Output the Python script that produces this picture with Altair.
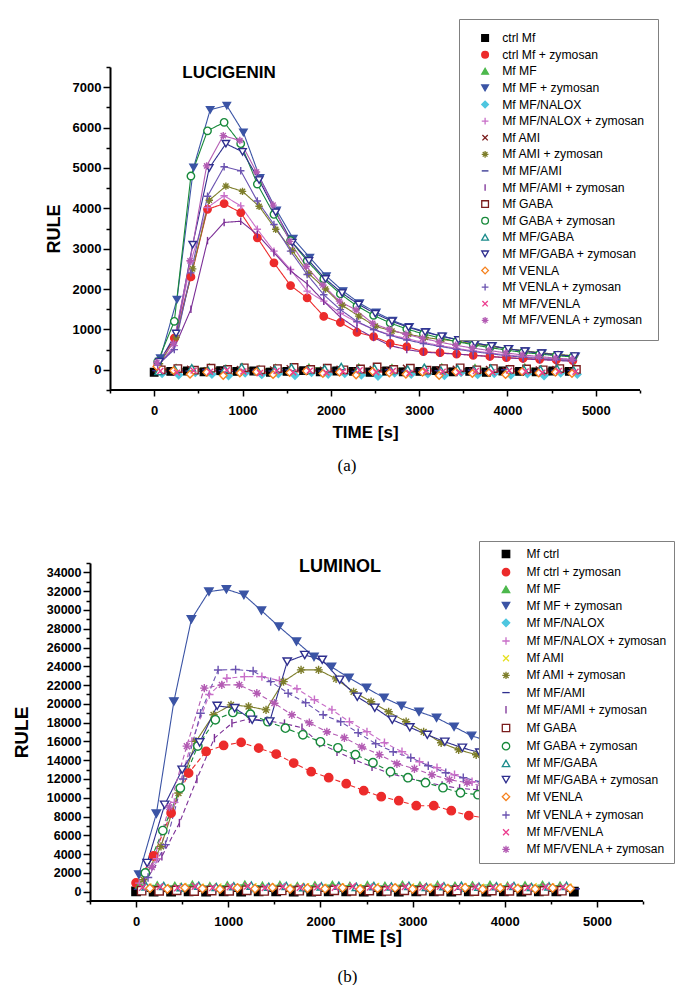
import altair as alt
import pandas as pd

# ---------------- categories ----------------
NAMES_A = ["ctrl Mf", "ctrl Mf + zymosan", "Mf MF", "Mf MF + zymosan", "Mf MF/NALOX",
           "Mf MF/NALOX + zymosan", "Mf AMI", "Mf AMI + zymosan", "Mf MF/AMI",
           "Mf MF/AMI + zymosan", "Mf GABA", "Mf GABA + zymosan", "Mf MF/GABA",
           "Mf MF/GABA + zymosan", "Mf VENLA", "Mf VENLA + zymosan", "Mf MF/VENLA",
           "Mf MF/VENLA + zymosan"]
NAMES_B = ["Mf ctrl", "Mf ctrl + zymosan"] + NAMES_A[2:]

COLORS_A = ["#000000", "#ec2b2b", "#4cb84c", "#3b54a5", "#4ec6df", "#c86ec8", "#7a1c1c",
            "#7d7d2a", "#2e2e8e", "#7b2e96", "#7a1c1c", "#17893a", "#1c8c8c", "#2e2e8e",
            "#f5821f", "#6a52b0", "#ec3d8e", "#b35bb3"]
COLORS_B = COLORS_A[:6] + ["#e6e020"] + COLORS_A[7:]

PLUS = "M-1,0L1,0M0,-1L0,1"
XMARK = "M-0.8,-0.8L0.8,0.8M-0.8,0.8L0.8,-0.8"
STAR = "M-1,0L1,0M0,-1L0,1M-0.7,-0.7L0.7,0.7M-0.7,0.7L0.7,-0.7"
DASH = "M-1,0L1,0"
VBAR = "M0,-1L0,1"
SHAPES = ["square", "circle", "triangle-up", "triangle-down", "diamond", PLUS, XMARK, STAR,
          DASH, VBAR, "square", "circle", "triangle-up", "triangle-down", "diamond", PLUS,
          XMARK, STAR]
# 1 = filled, 0 = open (white), 2 = stroke-only glyph
FILL_KIND = [1, 1, 1, 1, 1, 2, 2, 2, 2, 2, 0, 0, 0, 0, 0, 2, 2, 2]

# line style per series in panel (b)
DASHED_B = ["solid", "dashed", "solid", "solid", "solid", "dashed", "solid", "solid", "solid",
            "dashed", "solid", "dashed", "solid", "solid", "solid", "dashed", "solid", "dashed"]

# ---------------- panel (a) LUCIGENIN values ----------------
STEP_A = 188
A_CTRL = [-60, -40, -30, -50, -20, -40, -30, -60, -40, -20, -50, -30, -40, -60, -30, -50, -40, -20, -50, -40, -60, -30, -40, -50, -30, -40]
A_CTRLZ = [108, 787, 2300, 3975, 4117, 3890, 3270, 2650, 2087, 1780, 1322, 1172, 930, 822, 656, 574, 449, 424, 391, 360, 330, 300, 280, 260, 245, 230]
A_MF = [20, 50, 10, 60, 30, 70, 20, 50, 10, 60, 40, 20, 60, 10, 50, 30, 20, 60, 10, 50, 30, 20, 60, 10, 40, 50]
A_MFZ = [290, 1740, 5010, 6440, 6545, 5880, 4750, 3950, 3250, 2780, 2320, 1950, 1650, 1420, 1220, 1060, 940, 830, 740, 660, 590, 520, 460, 410, 370, 330]
A_NALOX = [-90, -130, -70, -110, -150, -80, -120, -100, -140, -70, -110, -90, -130, -160, -80, -110, -100, -140, -70, -120, -90, -130, -100, -150, -80, -110]
A_NALOXZ = [100, 600, 2690, 4020, 4310, 4060, 3480, 2940, 2485, 1950, 1700, 1400, 1180, 1000, 870, 770, 680, 600, 530, 470, 420, 370, 330, 300, 270, 250]
A_AMI = [10, -30, 30, -10, -20, 20, -40, 10, 40, -30, 0, 30, -20, 20, -10, 50, -30, 10, 30, -20, 20, -10, -40, 10, 20, -20]
A_AMIZ = [150, 800, 2500, 4200, 4550, 4420, 4050, 3480, 2950, 2380, 2000, 1600, 1330, 1080, 960, 880, 800, 750, 700, 640, 580, 520, 470, 420, 380, 350]
A_MFAMI = [-20, -10, -30, 0, -20, -40, -10, -30, 0, -20, -30, -10, -40, -20, 0, -30, -10, -20, -40, -10, -30, 0, -20, -30, -10, -20]
A_MFAMIZ = [100, 540, 1500, 3200, 3650, 3680, 3350, 2900, 2450, 2130, 1700, 1300, 1020, 800, 600, 500, 440, 410, 390, 360, 330, 300, 270, 250, 230, 210]
A_GABA = [0, 30, -10, 40, 10, 50, 0, 30, 60, 10, 40, 0, 20, 70, 10, 40, -10, 30, 50, 0, 30, 10, 20, 0, 30, 10]
A_GABAZ = [200, 1200, 4800, 5920, 6130, 5600, 4600, 3850, 3200, 2700, 2250, 1880, 1580, 1350, 1160, 1010, 890, 790, 700, 620, 550, 490, 430, 390, 350, 320]
A_MFGABA = [-40, 0, 50, -20, 20, 70, -30, 10, 60, -10, 30, 80, 0, 40, -20, 20, 60, -10, 30, 0, 40, -20, 20, 10, 30, -10]
A_MFGABAZ = [200, 900, 3100, 5000, 5600, 5400, 4700, 3900, 3150, 2700, 2250, 1900, 1620, 1390, 1200, 1050, 930, 830, 740, 660, 590, 520, 460, 410, 370, 340]
A_VENLA = [80, -20, -110, -60, -140, -80, -50, -120, -70, -30, -90, -60, -130, -40, -80, -110, -60, -140, -50, -90, -70, -120, -40, -80, -60, -90]
A_VENLAZ = [120, 500, 2400, 4300, 5030, 4930, 4180, 3600, 2940, 2360, 1860, 1490, 1200, 1000, 850, 740, 650, 580, 510, 450, 400, 350, 310, 280, 250, 230]
A_MFVENLA = [-30, -70, -20, -50, -10, -40, -80, -30, -60, -20, -70, -40, -10, -60, -30, -80, -20, -50, -70, -30, -60, -20, -40, -70, -30, -50]
A_MFVENLAZ = [180, 650, 2700, 5050, 5800, 5680, 4900, 4080, 3180, 2560, 2100, 1700, 1480, 1150, 1000, 880, 780, 690, 610, 540, 480, 420, 370, 330, 290, 260]
VALUES_A = [A_CTRL, A_CTRLZ, A_MF, A_MFZ, A_NALOX, A_NALOXZ, A_AMI, A_AMIZ, A_MFAMI, A_MFAMIZ,
            A_GABA, A_GABAZ, A_MFGABA, A_MFGABAZ, A_VENLA, A_VENLAZ, A_MFVENLA, A_MFVENLAZ]
START_A = [0, 40, 60, 70, 90, 40, 30, 60, 20, 40, 80, 40, 50, 60, 30, 40, 70, 30]

# ---------------- panel (b) LUMINOL values ----------------
STEP_B = 190
B_CTRL = [30, 10, 0, 20, 10, 30, 0, 20, 30, 10, 0, 30, 20, 10, 30, 0, 20, 30, 10, 20, 0, 20, 10, 30, 20, 10]
B_CTRLZ = [920, 3800, 8370, 12620, 14930, 15570, 15890, 15280, 14650, 13690, 12770, 12130, 11490, 10750, 10110, 9680, 9150, 9150, 8620, 8090, 7850, 7600, 7400, 7200, 7000, 6850]
B_MF = [700, 650, 600, 720, 560, 660, 730, 610, 690, 570, 650, 710, 600, 670, 590, 710, 630, 690, 600, 660, 710, 590, 650, 700, 620]
B_MFZ = [1810, 8300, 20250, 29000, 31950, 32200, 31600, 29930, 28230, 26630, 25000, 23940, 22770, 21700, 20640, 19790, 19150, 18510, 17560, 16600, 16000, 15400, 14900, 14400, 13900, 13500]
B_NALOX = [300, 360, 200, 400, 250, 350, 150, 300, 410, 250, 350, 200, 300, 380, 220, 340, 260, 360, 200, 320, 280, 380, 240, 340, 300]
B_NALOXZ = [900, 3500, 9500, 16000, 21000, 22730, 22900, 22900, 22480, 21600, 20430, 19360, 18090, 17020, 15850, 14900, 13830, 13190, 12450, 11700, 11200, 10700, 10300, 9900, 9500]
B_AMI = [500, 450, 560, 480, 520, 460, 540, 500, 470, 530, 490, 510, 460, 550, 480, 520, 500, 460, 540, 490, 510, 470, 530, 500, 480]
B_AMIZ = [1280, 4820, 10500, 16000, 18830, 19890, 19720, 19360, 22370, 23620, 23620, 22660, 21280, 20220, 19150, 18090, 17020, 15850, 15110, 14580, 14100, 13600, 13200, 12800, 12400]
B_MFAMI = [250, 300, 220, 280, 320, 240, 300, 260, 310, 230, 290, 270, 250, 310, 240, 280, 300, 230, 270, 290, 250, 310, 260, 280, 240, 300]
B_MFAMIZ = [1000, 3760, 7300, 12000, 16350, 17940, 18400, 18200, 17900, 17450, 15800, 14900, 14040, 13300, 12600, 12100, 11700, 11300, 11000, 10850, 10500, 10200, 9900, 9600, 9300]
B_GABA = [100, 80, 130, 60, 110, 90, 140, 70, 120, 100, 60, 130, 90, 110, 70, 140, 100, 80, 120, 60, 110, 90, 130, 70, 100]
B_GABAZ = [1990, 6500, 11030, 15500, 18300, 19080, 18900, 18100, 17410, 16700, 15960, 15320, 14580, 13730, 12770, 12130, 11600, 11070, 10530, 10320, 10000, 9700, 9400, 9100, 8800]
B_MFGABA = [550, 600, 480, 620, 500, 580, 640, 520, 600, 470, 560, 630, 510, 590, 540, 610, 490, 580, 620, 530, 570, 600, 500, 560, 610]
B_MFGABAZ = [3050, 9250, 12980, 15890, 19790, 19540, 18300, 18120, 24500, 25200, 24690, 22560, 20750, 19580, 18300, 17500, 16700, 15960, 15320, 14800, 14300, 13800, 13400, 13000, 12600]
B_VENLA = [350, 280, 400, 320, 260, 380, 300, 420, 270, 360, 310, 400, 250, 340, 390, 280, 350, 300, 410, 260, 370, 320, 290, 380, 330]
B_VENLAZ = [1500, 5000, 12000, 19000, 23600, 23650, 23500, 22370, 21130, 20110, 18830, 18090, 16920, 15750, 14900, 14260, 13410, 12660, 12130, 11700, 11300, 10900, 10500, 10200, 9900]
B_MFVENLA = [450, 520, 400, 560, 430, 500, 580, 420, 540, 460, 510, 440, 570, 480, 410, 530, 470, 550, 430, 500, 460, 540, 420, 510, 480]
B_MFVENLAZ = [2600, 9000, 15500, 21670, 22020, 22020, 21130, 20070, 18830, 17980, 17020, 16390, 15400, 14580, 13620, 13090, 12450, 11920, 11600, 11200, 10800, 10500, 10200, 9900]
VALUES_B = [B_CTRL, B_CTRLZ, B_MF, B_MFZ, B_NALOX, B_NALOXZ, B_AMI, B_AMIZ, B_MFAMI, B_MFAMIZ,
            B_GABA, B_GABAZ, B_MFGABA, B_MFGABAZ, B_VENLA, B_VENLAZ, B_MFVENLA, B_MFVENLAZ]
START_B = [0, 0, 40, 30, 90, 35, 130, 80, 20, 90, 60, 100, 110, 120, 150, 130, 70, 170]

# ---------------- axis ticks ----------------
X_MAJOR = [0, 1000, 2000, 3000, 4000, 5000]
X_MINOR = [-500, 500, 1500, 2500, 3500, 4500, 5500]
YA_MAJOR = list(range(0, 7001, 1000))
YA_MINOR = list(range(-500, 7501, 1000))
YB_MAJOR = list(range(0, 34001, 2000))
YB_MINOR = list(range(-1000, 35001, 2000))
X_EXTENT = [-500, 5500]

FONT = "Liberation Sans"


def make_df(names, values, starts, step, styles=None):
    rows = []
    for i, (name, vals, t0) in enumerate(zip(names, values, starts)):
        for k, v in enumerate(vals):
            rows.append({"series": name, "t": t0 + step * k, "v": v,
                         "style": styles[i] if styles else "solid"})
    return pd.DataFrame(rows)


def fills(colors):
    return [c if kind == 1 else ("white" if kind == 0 else "transparent")
            for c, kind in zip(colors, FILL_KIND)]


def panel(df, names, colors, w, h, xdom, ydom, ymaj, ymin, y_off, leg, lab, lab_x, lab_y,
          lab_size, cap, cap_dx, cap_off, yl_size, yt_size, yt_pad, xl_size, xt_size, xt_pad,
          psize):
    xs = alt.Scale(domain=xdom, nice=False, zero=False)
    ys = alt.Scale(domain=ydom, nice=False, zero=False)
    stroke_scale = alt.Scale(domain=names, range=colors)
    base = alt.Chart(df)

    lines = base.mark_line(strokeWidth=1.1).encode(
        x=alt.X("t:Q", scale=xs, axis=alt.Axis(
            values=X_MAJOR, format="d", orient="bottom", tickSize=6, tickWidth=1.5,
            domain=False, labelFontSize=xl_size, labelPadding=8, title="TIME [s]",
            titleFontSize=xt_size, titlePadding=xt_pad, grid=False)),
        y=alt.Y("v:Q", scale=ys, axis=alt.Axis(
            values=ymaj, format="d", orient="left", tickSize=7, tickWidth=1.5, offset=y_off,
            domainWidth=2, labelFontSize=yl_size, labelPadding=2, title="RULE",
            titleFontSize=yt_size, titlePadding=yt_pad, grid=False)),
        stroke=alt.Stroke("series:N", scale=stroke_scale, legend=None),
        strokeDash=alt.StrokeDash("style:N", scale=alt.Scale(
            domain=["solid", "dashed"], range=[[1, 0], [5, 3]]), legend=None),
        detail="series:N",
    )

    points = base.mark_point(size=psize, strokeWidth=1.4, opacity=1).encode(
        x=alt.X("t:Q", scale=xs, axis=alt.Axis(
            values=X_MINOR, orient="bottom", tickSize=3, tickWidth=1.5, labels=False,
            domain=False, title=None, grid=False)),
        y=alt.Y("v:Q", scale=ys, axis=alt.Axis(
            values=ymin, orient="left", tickSize=4, tickWidth=1.5, labels=False, offset=y_off,
            domain=False, title=None, grid=False)),
        stroke=alt.Stroke("series:N", scale=stroke_scale, legend=leg),
        fill=alt.Fill("series:N", scale=alt.Scale(domain=names, range=fills(colors)), legend=leg),
        shape=alt.Shape("series:N", scale=alt.Scale(domain=names, range=SHAPES), legend=leg),
    )

    # x axis base line, drawn from -500 to 5500 along the bottom of the y range
    baseline = alt.Chart(pd.DataFrame({"x1": [X_EXTENT[0]], "x2": [X_EXTENT[1]],
                                       "y": [ydom[0]]})).mark_rule(
        color="black", strokeWidth=2).encode(
        x=alt.X("x1:Q", scale=xs, axis=None), x2="x2:Q", y=alt.Y("y:Q", scale=ys, axis=None))

    label = alt.Chart(pd.DataFrame({"txt": [lab]})).mark_text(
        font=FONT, fontWeight="bold", fontSize=lab_size, align="center", baseline="middle",
        color="black").encode(x=alt.value(lab_x), y=alt.value(lab_y), text="txt:N")

    return alt.layer(lines, points, baseline, label).resolve_axis(
        x="independent", y="independent"
    ).resolve_legend(
        stroke="independent", fill="independent", shape="independent", strokeDash="independent"
    ).properties(
        width=w, height=h,
        title=alt.TitleParams(cap, orient="bottom", anchor="middle", frame="group",
                              font="Liberation Serif", fontSize=17, fontWeight="normal",
                              color="black", dx=cap_dx, offset=cap_off))


leg_a = alt.Legend(orient="none", legendX=369, legendY=-48, title=None, padding=13,
                   strokeColor="#808080", fillColor="white",
                   labelFont=FONT, labelFontSize=12.2, labelColor="black", labelLimit=400,
                   symbolSize=45, symbolStrokeWidth=1.3, rowPadding=3.6, symbolOffset=7,
                   labelOffset=11)
leg_b = alt.Legend(orient="none", legendX=389, legendY=-22, title=None, padding=7,
                   strokeColor="#808080", fillColor="white", labelFont=FONT, labelFontSize=12,
                   labelColor="black", labelLimit=400, symbolSize=55, symbolStrokeWidth=1.3,
                   rowPadding=4.2, symbolOffset=14, labelOffset=14.5)

df_a = make_df(NAMES_A, VALUES_A, START_A, STEP_A)
df_b = make_df(NAMES_B, VALUES_B, START_B, STEP_B, DASHED_B)

# panel (a) starts 20 px to the right of panel (b): extend its x range by 20 px of time
XA_DOM = [-500 - 20 * 6000 / 530, 5500]
pa = panel(df_a, NAMES_A, COLORS_A, 550, 323, XA_DOM, [-500, 7500], YA_MAJOR, YA_MINOR, -20,
           leg_a, "LUCIGENIN", 139, 6, 17, "(a)", -18, 18, 13, 18, 9, 13, 17, 7, 55)
pb = panel(df_b, NAMES_B, COLORS_B, 553, 338, [-500, 5500], [-1000, 35000], YB_MAJOR, YB_MINOR,
           0, leg_b, "LUMINOL", 250, 4, 18, "(b)", -19, 23, 12.5, 19, 15, 13, 18, 0, 70)

chart = alt.vconcat(pa, pb, spacing=66).resolve_scale(
    stroke="independent", fill="independent", shape="independent", strokeDash="independent"
).resolve_legend(
    stroke="independent", fill="independent", shape="independent", strokeDash="independent"
).properties(
    padding={"left": 4, "top": 10, "right": 0, "bottom": 0}
).configure_view(stroke=None).configure_axis(
    domainColor="black", tickColor="black", labelColor="black", titleColor="black",
    labelFont=FONT, titleFont=FONT, labelFontWeight="bold", titleFontWeight="bold"
)

chart.save("out.html", embed_options={"renderer": "svg", "actions": False})
